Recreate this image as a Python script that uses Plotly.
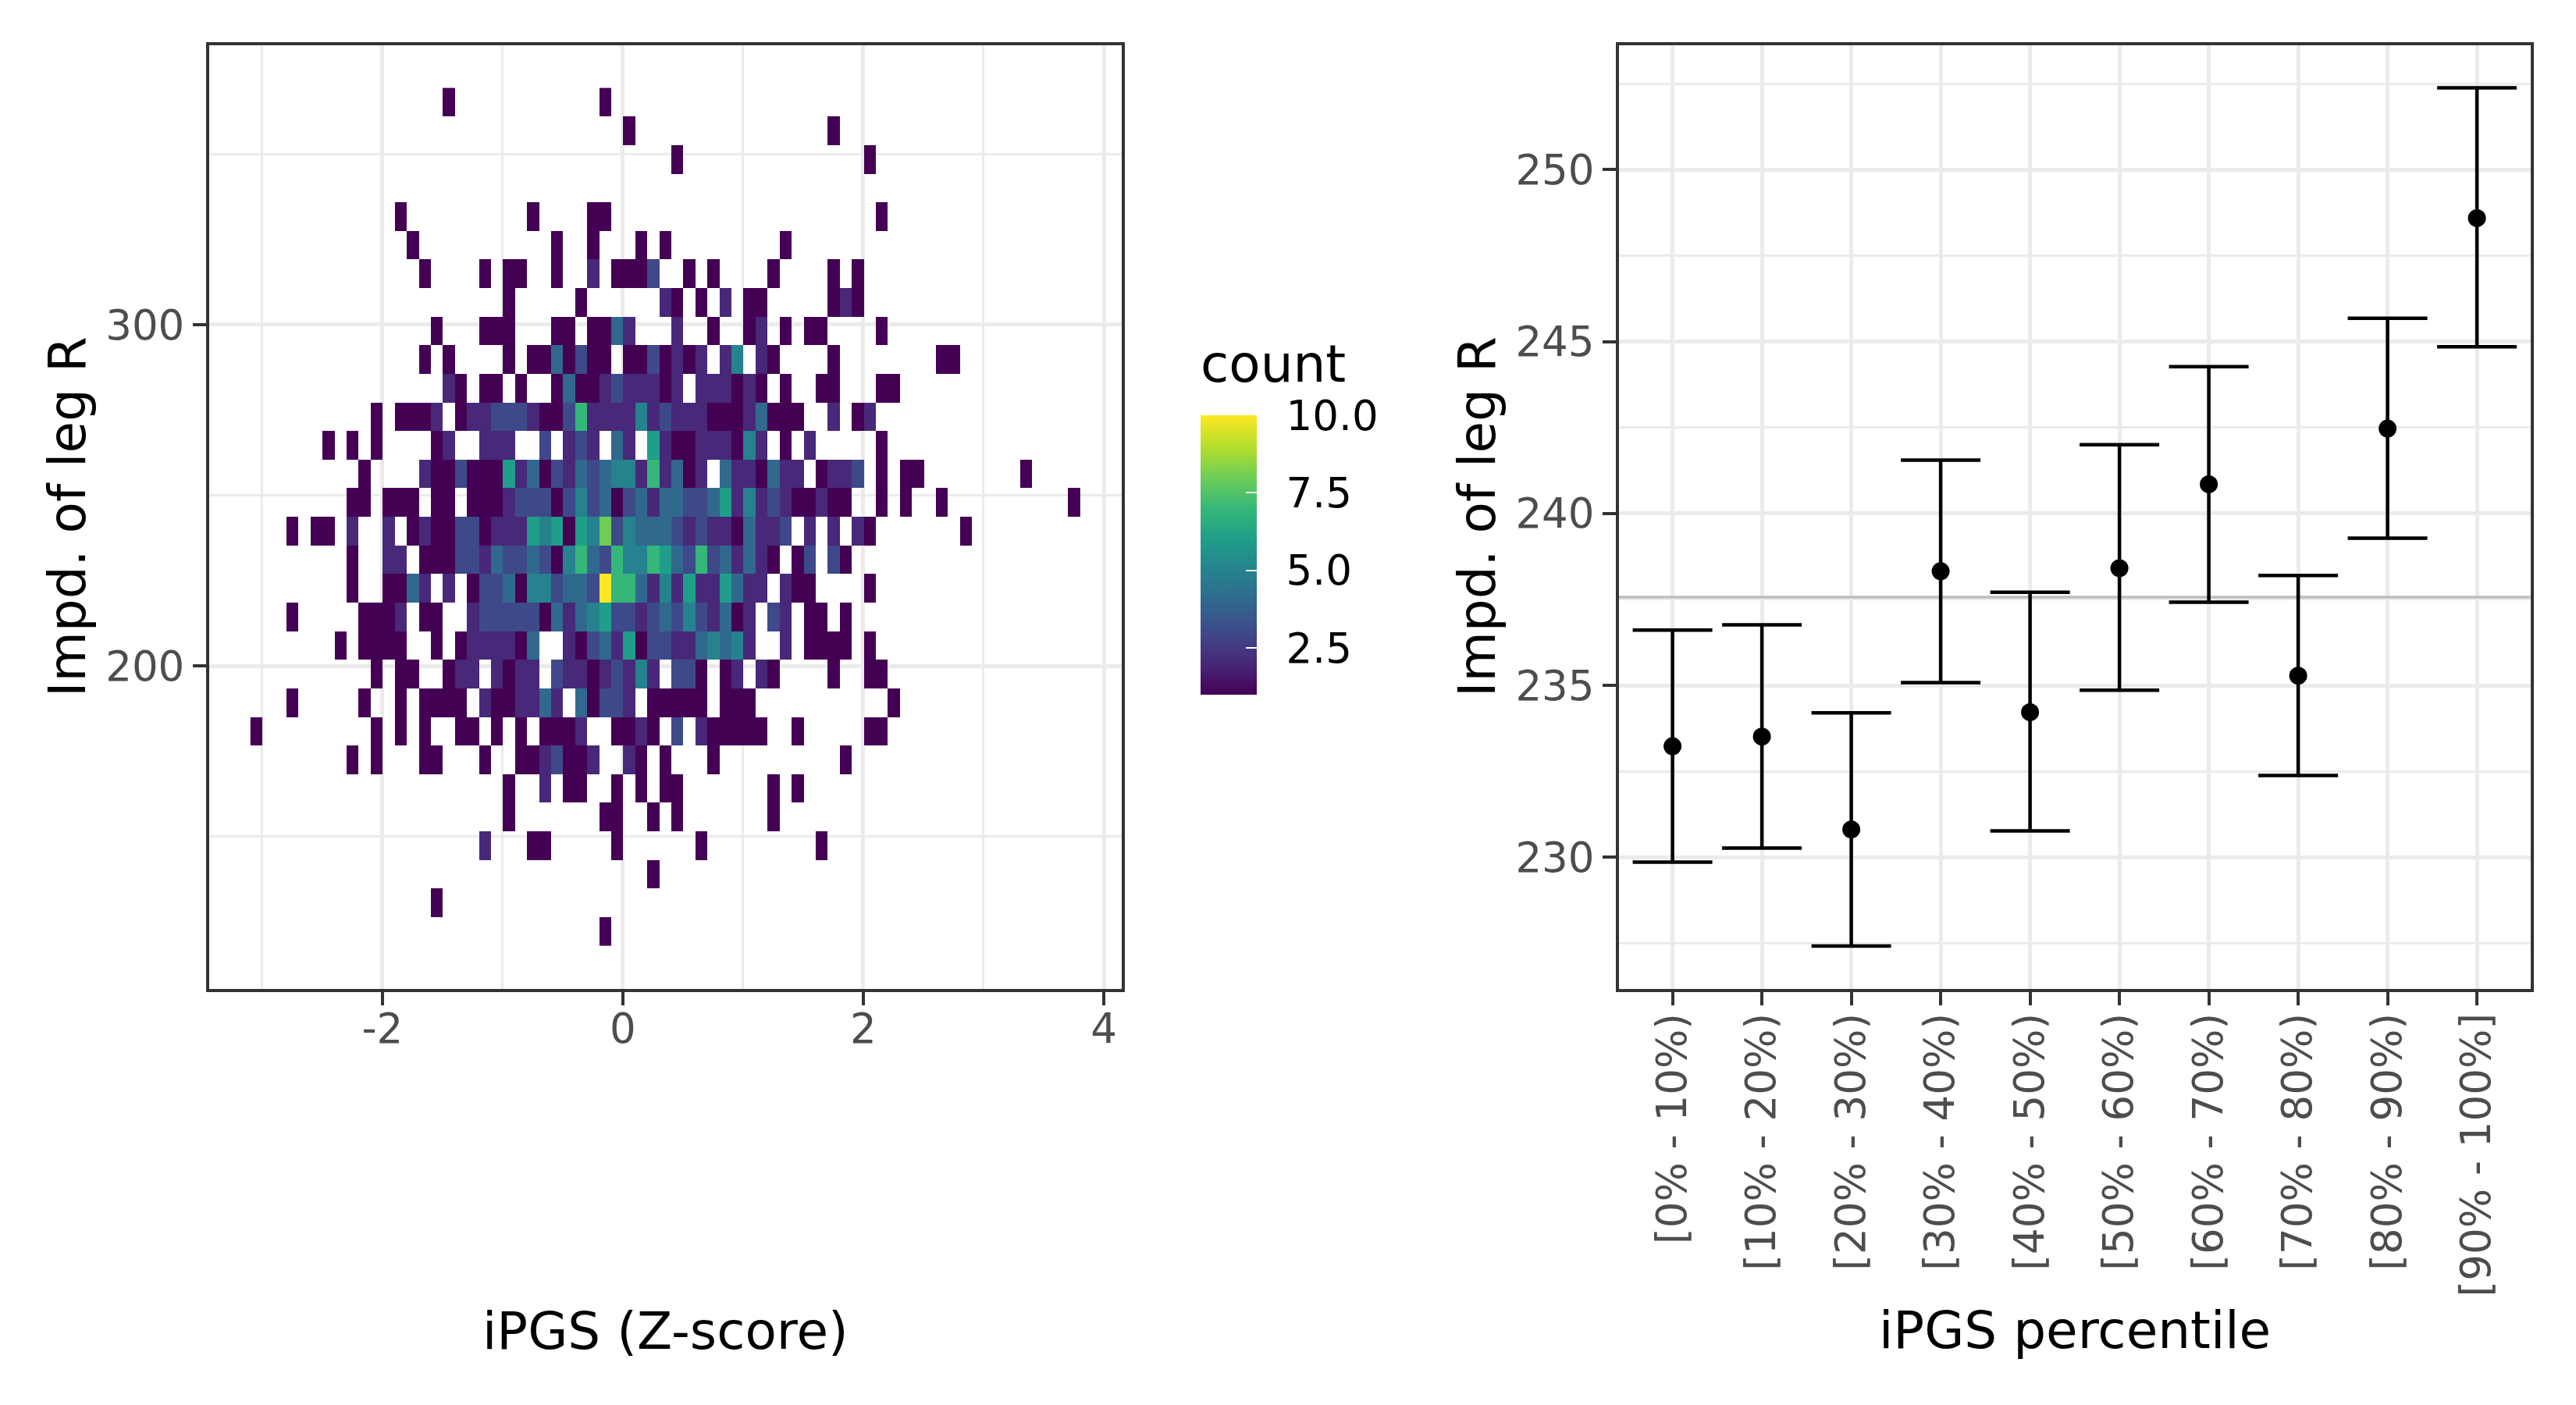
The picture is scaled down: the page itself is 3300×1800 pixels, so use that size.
import numpy as np
import plotly.graph_objects as go

# ---------------- Left panel: 2D histogram counts ----------------
# bin grid (data units)
x_edge0 = 0.003      # left edge of column k = 0
x_binwidth = 0.1
col_min, col_max = -31, 37
y_edge0 = 117.9      # bottom edge of row 0
y_binwidth = 8.383
n_rows = 30

# counts: row index -> {column index: count}
counts_by_row = {
    0: {-2: 1},
    1: {-16: 1},
    2: {2: 1},
    3: {-12: 2, -8: 1, -7: 1, -1: 1, 6: 1, 16: 1},
    4: {-10: 1, -2: 1, -1: 1, 2: 1, 4: 1, 12: 1},
    5: {-10: 1, -7: 2, -5: 1, -4: 1, -1: 1, 1: 1, 3: 1, 4: 1, 12: 1, 14: 1},
    6: {-23: 1, -21: 1, -17: 1, -16: 1, -12: 1, -9: 1, -8: 1, -7: 2, -6: 3, -5: 1, -4: 1, -3: 2,
        0: 2, 1: 1, 3: 1, 7: 1, 18: 1},
    7: {-31: 1, -21: 1, -19: 1, -17: 1, -14: 1, -13: 1, -11: 1, -9: 1, -7: 1, -6: 1, -5: 1, -4: 2,
        -1: 1, 0: 1, 1: 2, 2: 1, 4: 3, 6: 2, 7: 1, 8: 1, 9: 1, 10: 1, 11: 1, 14: 1, 20: 1, 21: 1},
    8: {-28: 1, -22: 1, -19: 1, -17: 1, -16: 1, -15: 1, -14: 1, -12: 2, -11: 1, -10: 1, -9: 2, -8: 2,
        -7: 4, -6: 2, -4: 4, -3: 1, -2: 3, -1: 3, 0: 2, 2: 1, 3: 1, 4: 1, 5: 1, 6: 1, 8: 1, 9: 1,
        10: 1, 22: 1},
    9: {-21: 1, -19: 1, -18: 1, -15: 1, -14: 2, -13: 2, -11: 2, -10: 1, -9: 2, -8: 2, -6: 3, -5: 2,
        -4: 2, -3: 1, -2: 2, -1: 3, 0: 2, 1: 5, 2: 2, 4: 3, 5: 3, 6: 1, 8: 1, 9: 2, 11: 2, 12: 1,
        17: 1, 20: 1, 21: 1},
    10: {-24: 1, -22: 1, -21: 1, -20: 1, -19: 1, -16: 1, -14: 1, -13: 2, -12: 2, -11: 2, -10: 2,
         -9: 1, -8: 4, -5: 2, -4: 1, -3: 3, -2: 4, -1: 2, 0: 6, 1: 1, 2: 3, 3: 3, 4: 2, 5: 2, 6: 4,
         7: 5, 8: 4, 9: 5, 10: 2, 13: 2, 15: 1, 16: 1, 17: 1, 18: 1, 20: 1},
    11: {-28: 1, -22: 1, -21: 1, -20: 1, -19: 2, -17: 1, -16: 1, -13: 2, -12: 3, -11: 3, -10: 3,
         -9: 3, -8: 3, -7: 1, -6: 4, -5: 2, -4: 4, -3: 5, -2: 6, -1: 3, 0: 3, 1: 2, 2: 3, 3: 4,
         4: 3, 5: 5, 6: 3, 7: 2, 8: 4, 9: 1, 10: 2, 12: 3, 13: 2, 15: 1, 16: 1, 18: 1},
    12: {-23: 1, -20: 1, -19: 1, -18: 4, -17: 2, -15: 2, -13: 1, -12: 3, -11: 3, -10: 4, -9: 1,
         -8: 5, -7: 5, -6: 3, -5: 4, -4: 4, -3: 3, -2: 10, -1: 7, 0: 7, 1: 4, 2: 2, 3: 5, 4: 2,
         5: 6, 6: 2, 7: 2, 8: 6, 9: 4, 10: 2, 11: 2, 13: 2, 14: 1, 15: 1, 20: 1},
    13: {-23: 1, -20: 2, -19: 2, -17: 1, -16: 1, -15: 1, -14: 3, -13: 3, -12: 2, -11: 4, -10: 3,
         -9: 3, -8: 4, -7: 3, -6: 1, -5: 5, -4: 7, -3: 4, -2: 3, -1: 7, 0: 5, 1: 5, 2: 7, 3: 6,
         4: 4, 5: 3, 6: 7, 7: 3, 8: 4, 9: 2, 10: 4, 11: 2, 12: 1, 14: 1, 15: 3, 17: 3, 18: 1},
    14: {-28: 1, -26: 1, -25: 1, -23: 2, -20: 2, -18: 1, -17: 2, -16: 1, -15: 1, -14: 3, -13: 3,
         -12: 1, -11: 2, -10: 2, -9: 2, -8: 6, -7: 5, -6: 6, -5: 1, -4: 6, -3: 5, -2: 8, -1: 3,
         0: 5, 1: 4, 2: 4, 3: 4, 4: 3, 5: 2, 6: 3, 7: 2, 8: 2, 9: 1, 10: 4, 11: 2, 12: 2, 13: 3,
         15: 2, 17: 2, 19: 2, 20: 1, 28: 1},
    15: {-23: 1, -22: 1, -20: 1, -19: 1, -18: 1, -16: 1, -15: 1, -13: 1, -12: 1, -11: 1, -10: 2,
         -9: 3, -8: 3, -7: 3, -6: 1, -5: 3, -4: 5, -3: 3, -2: 4, -1: 1, 0: 3, 1: 4, 2: 2, 3: 4,
         4: 4, 5: 3, 6: 3, 7: 4, 8: 6, 9: 2, 10: 5, 11: 2, 12: 3, 13: 2, 14: 1, 15: 1, 16: 2,
         17: 1, 18: 1, 21: 1, 23: 1, 26: 1, 37: 1},
    16: {-22: 1, -17: 2, -16: 1, -15: 1, -14: 3, -13: 1, -12: 1, -11: 1, -10: 6, -9: 2, -8: 4,
         -7: 1, -6: 3, -5: 2, -4: 4, -3: 3, -2: 4, -1: 5, 0: 5, 1: 2, 2: 7, 3: 2, 4: 4, 5: 1,
         6: 2, 8: 4, 9: 2, 10: 2, 11: 1, 12: 4, 13: 2, 14: 2, 16: 1, 17: 2, 18: 2, 19: 3, 21: 1,
         23: 1, 24: 1, 33: 1},
    17: {-25: 1, -23: 1, -21: 1, -16: 1, -15: 2, -12: 2, -11: 2, -10: 2, -7: 3, -5: 2, -4: 3,
         -3: 2, -1: 4, 0: 2, 2: 6, 3: 2, 4: 1, 5: 1, 6: 2, 7: 2, 8: 2, 9: 1, 10: 5, 11: 2, 13: 1,
         15: 2, 21: 1},
    18: {-21: 1, -19: 1, -18: 1, -17: 1, -16: 2, -14: 1, -13: 2, -12: 2, -11: 3, -10: 3, -9: 3,
         -8: 2, -7: 1, -6: 1, -5: 3, -4: 7, -3: 2, -2: 2, -1: 2, 0: 2, 1: 5, 2: 2, 3: 3, 4: 2,
         5: 2, 6: 2, 7: 1, 8: 1, 9: 1, 10: 2, 11: 4, 12: 1, 13: 1, 14: 1, 17: 2, 19: 1, 20: 2},
    19: {-15: 2, -14: 1, -12: 1, -11: 1, -9: 1, -6: 1, -5: 4, -4: 1, -3: 1, -2: 2, -1: 3, 0: 2,
         1: 2, 2: 2, 3: 1, 4: 2, 6: 2, 7: 2, 8: 2, 9: 1, 10: 2, 11: 1, 13: 1, 16: 1, 17: 1, 21: 1,
         22: 1},
    20: {-17: 1, -15: 1, -10: 1, -8: 1, -7: 1, -6: 4, -5: 1, -4: 3, -3: 1, -2: 1, 0: 1, 1: 1,
         2: 3, 3: 1, 4: 2, 5: 1, 6: 2, 8: 2, 9: 5, 11: 2, 12: 1, 17: 1, 26: 1, 27: 1},
    21: {-16: 1, -12: 1, -11: 1, -10: 1, -6: 1, -5: 1, -3: 1, -2: 1, -1: 4, 0: 2, 4: 2, 7: 1,
         10: 1, 11: 2, 13: 1, 15: 1, 16: 1, 21: 1},
    22: {-10: 1, -4: 1, 3: 2, 4: 1, 6: 1, 8: 2, 10: 1, 11: 1, 17: 1, 18: 2, 19: 1},
    23: {-17: 1, -12: 1, -10: 1, -9: 1, -6: 1, -3: 2, -1: 1, 0: 1, 1: 1, 2: 3, 5: 1, 7: 1,
         12: 1, 17: 1, 19: 1},
    24: {-18: 1, -6: 1, -3: 1, 1: 1, 3: 1, 13: 1},
    25: {-19: 1, -8: 1, -3: 1, -2: 1, 21: 1},
    26: {},
    27: {4: 1, 20: 1},
    28: {0: 1, 17: 1},
    29: {-15: 1, -2: 1},
}

# ---------------- Right panel: means with intervals ----------------
percentile_bins = ["[0% - 10%)", "[10% - 20%)", "[20% - 30%)", "[30% - 40%)", "[40% - 50%)",
                   "[50% - 60%)", "[60% - 70%)", "[70% - 80%)", "[80% - 90%)", "[90% - 100%]"]
bin_means = [233.23, 233.51, 230.81, 238.32, 234.22, 238.41, 240.85, 235.28, 242.47, 248.59]
bin_upper = [236.61, 236.76, 234.20, 241.55, 237.71, 242.00, 244.27, 238.20, 245.68, 252.38]
bin_lower = [229.86, 230.27, 227.42, 235.08, 230.77, 234.86, 237.42, 232.38, 239.28, 244.85]
overall_mean = 237.57

# colour-bar ticks
cbar_ticks = [2.5, 5, 7.5, 10]
cbar_labels = ["2.5", "5.0", "7.5", "10.0"]

# ---------------- build heatmap matrix ----------------
cols = list(range(col_min, col_max + 1))
x_centers = [round(x_edge0 + x_binwidth * (k + 0.5), 4) for k in cols]
y_centers = [round(y_edge0 + y_binwidth * (r + 0.5), 3) for r in range(n_rows)]
z = np.full((n_rows, len(cols)), np.nan)
for r, rowdict in counts_by_row.items():
    for k, c in rowdict.items():
        z[r, k - col_min] = c

W, H = 3300, 1800
FONT = "DejaVu Sans"
TICK_COL = "#4D4D4D"
AX_COL = "#333333"
GRID = "#EBEBEB"

def px_x(p):
    return p / W

def px_y(p):
    return 1 - p / H

left_dom = [px_x(267.7), px_x(1436.8)]
right_dom = [px_x(2073.9), px_x(3241.8)]
y_dom = [px_y(1267.0), px_y(57.5)]

x1_range = [-3.442, 4.148]
y1_range = [105.3, 382.0]
x2_range = [0.4, 10.6]
y2_range = [226.17, 253.63]

fig = go.Figure()

fig.add_trace(go.Heatmap(
    x=x_centers, y=y_centers, z=z,
    colorscale="Viridis", zmin=1, zmax=10,
    xaxis="x", yaxis="y", hoverongaps=False,
    colorbar=dict(
        thickness=72, thicknessmode="pixels",
        len=358, lenmode="pixels",
        x=px_x(1538), xanchor="left", xpad=0,
        y=px_y(711), yanchor="middle", ypad=0,
        tickvals=cbar_ticks, ticktext=["\u2002" + t for t in cbar_labels],
        ticks="inside", ticklen=14, tickcolor="white", tickwidth=2,
        outlinewidth=0,
        tickfont=dict(family=FONT, size=53, color="black"),
    ),
))

xpos = list(range(1, len(percentile_bins) + 1))
fig.add_trace(go.Scatter(
    x=[x2_range[0], x2_range[1]], y=[overall_mean, overall_mean], mode="lines",
    line=dict(color="#BEBEBE", width=3.5), xaxis="x2", yaxis="y2", showlegend=False,
    hoverinfo="skip",
))
fig.add_trace(go.Scatter(
    x=xpos, y=bin_means, mode="markers",
    marker=dict(color="black", size=23),
    error_y=dict(type="data", symmetric=False,
                 array=[u - m for u, m in zip(bin_upper, bin_means)],
                 arrayminus=[m - l for m, l in zip(bin_means, bin_lower)],
                 color="black", thickness=4.5, width=51),
    xaxis="x2", yaxis="y2", showlegend=False,
))

common = dict(
    showline=True, linecolor=AX_COL, linewidth=3.5, mirror=True,
    ticks="outside", ticklen=17, tickwidth=3.5, tickcolor=AX_COL,
    showgrid=True, gridcolor=GRID, gridwidth=4.5, zeroline=False,
    tickfont=dict(family=FONT, size=53, color=TICK_COL),
    automargin=False,
)

fig.update_layout(
    width=W, height=H,
    margin=dict(l=0, r=0, t=0, b=0),
    paper_bgcolor="white", plot_bgcolor="white",
    showlegend=False,
    font=dict(family=FONT),
    xaxis=dict(domain=left_dom, range=x1_range, tickvals=[-2, 0, 2, 4],
               ticktext=["-2", "0", "2", "4"], ticklabelstandoff=-15,
               minor=dict(tickvals=[-3, -1, 1, 3], showgrid=True, gridcolor=GRID,
                          gridwidth=2.5, ticks=""),
               anchor="y", **common),
    yaxis=dict(domain=y_dom, range=y1_range, tickvals=[200, 300],
               ticktext=["200", "300"],
               minor=dict(tickvals=[150, 250, 350], showgrid=True, gridcolor=GRID,
                          gridwidth=2.5, ticks=""),
               anchor="x", **common),
    xaxis2=dict(domain=right_dom, range=x2_range, tickvals=xpos, ticktext=percentile_bins,
                tickangle=-90, ticklabelstandoff=-11, anchor="y2", **common),
    yaxis2=dict(domain=y_dom, range=y2_range, tickvals=[230, 235, 240, 245, 250],
                ticktext=["230", "235", "240", "245", "250"],
                minor=dict(tickvals=[227.5, 232.5, 237.5, 242.5, 247.5, 252.5], showgrid=True,
                           gridcolor=GRID, gridwidth=2.5, ticks=""),
                anchor="x2", **common),
)

title_font = dict(family=FONT, size=66, color="black")
fig.add_annotation(text="iPGS (Z-score)", x=px_x(852), y=px_y(1705), xref="paper", yref="paper",
                   showarrow=False, xanchor="center", yanchor="middle", font=title_font)
fig.add_annotation(text="iPGS percentile", x=px_x(2658), y=px_y(1704), xref="paper", yref="paper",
                   showarrow=False, xanchor="center", yanchor="middle", font=title_font)
fig.add_annotation(text="Impd. of leg R", x=px_x(86), y=px_y(662), xref="paper", yref="paper",
                   showarrow=False, xanchor="center", yanchor="middle", textangle=-90,
                   font=title_font)
fig.add_annotation(text="Impd. of leg R", x=px_x(1892), y=px_y(662), xref="paper", yref="paper",
                   showarrow=False, xanchor="center", yanchor="middle", textangle=-90,
                   font=title_font)
fig.add_annotation(text="count", x=px_x(1536), y=px_y(466), xref="paper", yref="paper",
                   showarrow=False, xanchor="left", yanchor="middle", font=title_font)

fig.write_html("out.html",
               config={"displayModeBar": False},
               post_script="document.body.style.margin='0px';"
                           "document.documentElement.style.margin='0px';")
